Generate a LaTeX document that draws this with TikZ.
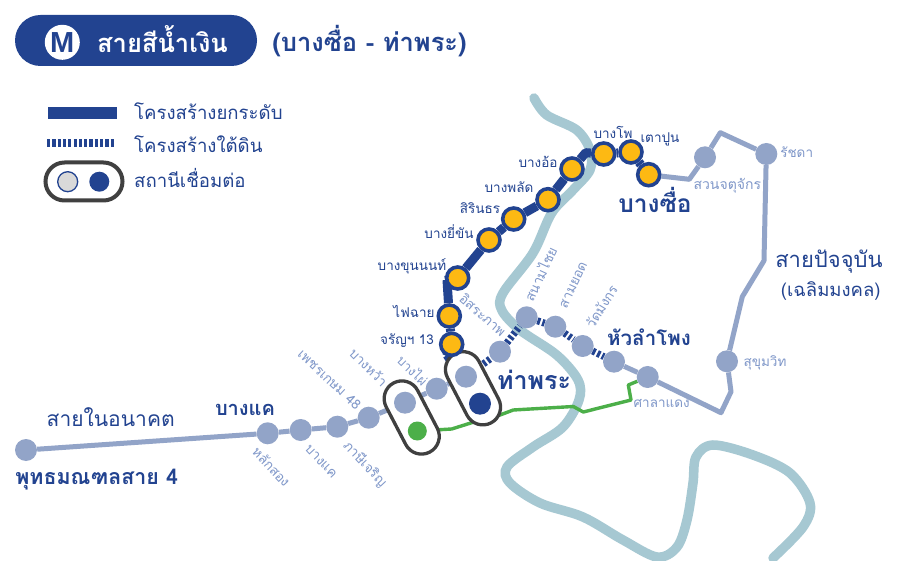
\documentclass[tikz,border=0pt]{standalone}
\usepackage{fontspec}
\usetikzlibrary{shapes.misc}
\newfontfamily\thaifont[Script=Thai]{Loma}
\newfontfamily\logofont{Liberation Sans}
\definecolor{navy}{HTML}{224390}
\definecolor{lightline}{HTML}{92A4C8}
\definecolor{labelblue}{HTML}{7F97C9}
\definecolor{river}{HTML}{A6C8D2}
\definecolor{sun}{HTML}{FDB913}
\definecolor{greenline}{HTML}{4CAF49}
\definecolor{capgrey}{HTML}{404040}
\pgfdeclarelayer{backlines}
\pgfdeclarelayer{capsules}
\pgfsetlayers{backlines,capsules,main}
\newcommand{\fs}[1]{\fontsize{#1}{#1}\selectfont}
\tikzset{
  yst/.style={circle,draw=navy,fill=sun,line width=3.6pt,minimum size=22pt,inner sep=0pt},
  lst/.style={circle,fill=lightline,minimum size=22pt,inner sep=0pt},
  darkst/.style={circle,fill=navy,minimum size=22pt,inner sep=0pt},
  greenst/.style={circle,fill=greenline,minimum size=19pt,inner sep=0pt},
  lbl/.style={text=navy,inner sep=0pt,font=\thaifont\fs{13.5}},
  slbl/.style={text=labelblue,inner sep=0pt,font=\thaifont\fs{13.5}},
  blbl/.style={text=navy,inner sep=0pt,font=\thaifont\bfseries\fs{24.5}},
  mlbl/.style={text=navy,inner sep=0pt,font=\thaifont\fs{22}},
  capsule/.style={rounded rectangle,draw=capgrey,fill=white,line width=3.3pt,minimum width=78pt,minimum height=35.5pt,inner sep=0pt},
  mainline/.style={draw=navy,line width=9pt,line join=round},
  underline/.style={draw=navy,line width=7pt,dash pattern=on 3pt off 2.2pt},
  surfline/.style={draw=lightline,line width=5pt,line join=round},
  greenpath/.style={draw=greenline,line width=3.4pt,line join=round},
}
\begin{document}
\begin{tikzpicture}[x=1pt,y=-1pt]
\useasboundingbox (0,0) rectangle (900,561);
\begin{pgfonlayer}{backlines}
\fill[white] (0,0) rectangle (900,561);
\end{pgfonlayer}

% header
\node[rounded rectangle,fill=navy,minimum width=242pt,minimum height=51pt,inner sep=0pt] (pill) at (136,40.5) {};
\node[circle,fill=white,minimum size=35pt,inner sep=0pt] (logo) at (62.3,42.3) {};
\node[text=navy,inner sep=0pt,font=\logofont\bfseries\fs{29}] (logoM) at (62.3,42.8) {M};
\node[text=white,inner sep=0pt,font=\thaifont\bfseries\fs{25.5}] (title) at (162.5,39.5) {สายสีน้ำเงิน};
\node[blbl,font=\thaifont\bfseries\fs{25.5}] (subtitle) at (369.5,41) {(บางซื่อ - ท่าพระ)};

% legend
\coordinate (legA1) at (48,113);
\coordinate (legA2) at (117,113);
\coordinate (legB1) at (47,143);
\coordinate (legB2) at (115,143);
\draw[navy,line width=12pt] (legA1) -- (legA2);
\draw[navy,line width=7.5pt,dash pattern=on 3.2pt off 2.1pt] (legB1) -- (legB2);
\node[rounded rectangle,draw=capgrey,fill=white,line width=4pt,minimum width=77pt,minimum height=38pt,inner sep=0pt] (legcap) at (84,181.5) {};
\node[circle,draw=navy,fill=black!15,line width=1.3pt,minimum size=20pt,inner sep=0pt] (legS1) at (67.7,181.7) {};
\node[circle,fill=navy,minimum size=20pt,inner sep=0pt] (legS2) at (99.3,181.7) {};
\node[lbl,anchor=west,font=\thaifont\fs{18.6}] (legT1) at (134,111) {โครงสร้างยกระดับ};
\node[lbl,anchor=west,font=\thaifont\fs{18.6}] (legT2) at (134,144) {โครงสร้างใต้ดิน};
\node[lbl,anchor=west,font=\thaifont\fs{18.6}] (legT3) at (134,178) {สถานีเชื่อมต่อ};

% elevated stations
\node[yst] (bangsue) at (648.7,174.7) {};
\node[yst] (taopoon) at (631,152) {};
\node[yst] (bangpho) at (603.7,154) {};
\node[yst] (bangor) at (572,169) {};
\node[yst] (bangphlat) at (548,199.7) {};
\node[yst] (sirindhorn) at (513.7,219) {};
\node[yst] (bangyikhan) at (489,240) {};
\node[yst] (bangkhunnon) at (457.7,278) {};
\node[yst] (faichai) at (449.3,316) {};
\node[yst] (charan) at (451.7,344.3) {};

% other stations
\node[lst] (itsaraphap) at (500,351.7) {};
\node[lst] (sanamchai) at (526.7,317.3) {};
\node[lst] (samyot) at (555.3,326.7) {};
\node[lst] (watmangkon) at (582.7,346) {};
\node[lst] (hualamphong) at (614,361.7) {};
\node[lst] (silom) at (647.7,377) {};
\node[lst] (sukhumvit) at (727,361.3) {};
\node[lst] (ratchada) at (766.3,154) {};
\node[lst] (chatuchak) at (705,157.3) {};
\node[lst] (thaphra) at (466,376.7) {};
\node[darkst] (thaphraD) at (480,403.7) {};
\node[lst] (bangphai) at (436.7,388.7) {};
\node[lst] (bangwa) at (405,402.7) {};
\node[greenst] (bangwaG) at (417.3,431) {};
\node[lst] (phetkasem) at (368.7,417.7) {};
\node[lst] (phasi) at (337.3,426.7) {};
\node[lst] (bangkhae) at (300.7,430) {};
\node[lst] (laksong) at (267.7,433.3) {};
\node[lst] (phutthamonthon) at (26,450) {};

% way points
\coordinate (c1) at (447,280);
\coordinate (c2) at (585.7,152.7);
\coordinate (c3) at (447,355);
\coordinate (s1) at (721,412.7);
\coordinate (s2) at (731,391.7);
\coordinate (s3) at (742.3,296.7);
\coordinate (s4) at (764,260.7);
\coordinate (s6) at (720.3,132.7);
\coordinate (s7) at (689.3,179.3);
\coordinate (g1) at (451.7,429);
\coordinate (g2) at (471.7,422.7);
\coordinate (g3) at (500,415);
\coordinate (g4) at (513.3,410);
\coordinate (g5) at (573.3,406.5);
\coordinate (g6) at (583.3,412);
\coordinate (g7) at (631,400);
\coordinate (g8) at (628.3,385);

\begin{pgfonlayer}{backlines}
\draw[river,line width=9.5pt,line cap=round] plot[smooth,tension=0.55] coordinates {
 (534,98) (546.7,115) (576.7,130) (590,150) (590,170) (573,190) (551.7,213) (533,253)
 (503,293) (501.7,310) (520,330) (556.7,355) (578,380) (579,400) (563,427) (533,447)
 (507,467) (510,483) (540,503) (583,517) (623,540) (657,557) (677,547) (687,520)
 (693,483) (696,457) (713,445) (753,455) (790,473) (810,503) (803,527) (773,558)};
\draw[greenpath] (bangwaG) -- (g1) -- (g2) -- (g3) -- (g4) -- (g5) -- (g6) -- (g7) -- (g8) -- (silom);
\draw[surfline] (phutthamonthon) -- (laksong) -- (bangkhae) -- (phasi) -- (phetkasem) -- (bangwa) -- (bangphai) -- (thaphra);
\draw[surfline] (hualamphong) -- (silom) -- (s1) -- (s2) -- (sukhumvit) -- (s3) -- (s4) -- (ratchada) -- (s6) -- (chatuchak) -- (s7) -- (bangsue);
\draw[underline] (thaphra) -- (itsaraphap);
\draw[underline] (itsaraphap) -- (sanamchai);
\draw[underline] (sanamchai) -- (samyot);
\draw[underline] (samyot) -- (watmangkon);
\draw[underline] (watmangkon) -- (hualamphong);
\draw[mainline] (thaphraD) -- (c3) -- (charan) -- (faichai) -- (c1) -- (bangkhunnon) -- (bangyikhan) -- (sirindhorn) -- (bangphlat) -- (bangor) -- (c2) -- (bangpho) -- (taopoon) -- (bangsue);
\end{pgfonlayer}
\begin{pgfonlayer}{capsules}
\node[capsule,rotate=-62.5] (cap1) at (411.7,417.5) {};
\node[capsule,rotate=-62.5] (cap2) at (473,388.3) {};
\end{pgfonlayer}

% labels
\node[lbl] (tBangpho) at (613,132.5) {บางโพ};
\node[lbl] (tTaopoon) at (660,139) {เตาปูน};
\node[lbl] (tBangor) at (538,162) {บางอ้อ};
\node[lbl] (tPhlat) at (509,187) {บางพลัด};
\node[lbl] (tSirin) at (480,208) {สิรินธร};
\node[lbl] (tYikhan) at (449,232) {บางยี่ขัน};
\node[lbl] (tKhunnon) at (412,266) {บางขุนนนท์};
\node[lbl] (tFaichai) at (414,311) {ไฟฉาย};
\node[lbl] (tCharan) at (407,341) {จรัญฯ 13};
\node[blbl] (tBangsue) at (655,200) {บางซื่อ};
\node[blbl,font=\thaifont\bfseries\fs{20.5}] (tHua) at (649,337) {หัวลำโพง};
\node[blbl,font=\thaifont\bfseries\fs{25}] (tThaphra) at (534,380) {ท่าพระ};
\node[slbl,rotate=-41] (tItsara) at (483,315) {อิสระภาพ};
\node[slbl,rotate=65] (tSanam) at (540,274) {สนามไชย};
\node[slbl,rotate=65] (tSamyot) at (573.5,285) {สามยอด};
\node[slbl,rotate=58] (tWat) at (601.5,306.5) {วัดมังกร};
\node[slbl,font=\thaifont\fs{14}] (tChatu) at (727.3,186) {สวนจตุจักร};
\node[slbl] (tRatcha) at (796.7,152.5) {รัชดา};
\node[slbl] (tSukhu) at (765,363) {สุขุมวิท};
\node[slbl] (tSala) at (661.7,404) {ศาลาแดง};
\node[mlbl] (tCurrent) at (829,261.5) {สายปัจจุบัน};
\node[mlbl,font=\thaifont\fs{18.5}] (tChaloem) at (830.7,291) {(เฉลิมมงคล)};
\node[slbl,rotate=-45,font=\thaifont\fs{13}] (tPhai) at (413,370) {บางไผ่};
\node[slbl,rotate=-45] (tWa) at (369,367) {บางหว้า};
\node[slbl,rotate=-43] (tPhet) at (329.5,379.5) {เพชรเกษม 48};
\node[slbl,rotate=-47] (tPhasi) at (365,464) {ภาษีเจริญ};
\node[slbl,rotate=-47] (tKhae) at (321,461.5) {บางแค};
\node[slbl,rotate=-47] (tLak) at (271.7,466.5) {หลักสอง};
\node[blbl,font=\thaifont\bfseries\fs{20}] (tBangkhae) at (245,409.5) {บางแค};
\node[mlbl,font=\thaifont\fs{21}] (tFuture) at (110.7,417.5) {สายในอนาคต};
\node[blbl,font=\thaifont\bfseries\fs{21.4}] (tPhuttha) at (96.7,480) {พุทธมณฑลสาย 4};
\end{tikzpicture}
\end{document}
